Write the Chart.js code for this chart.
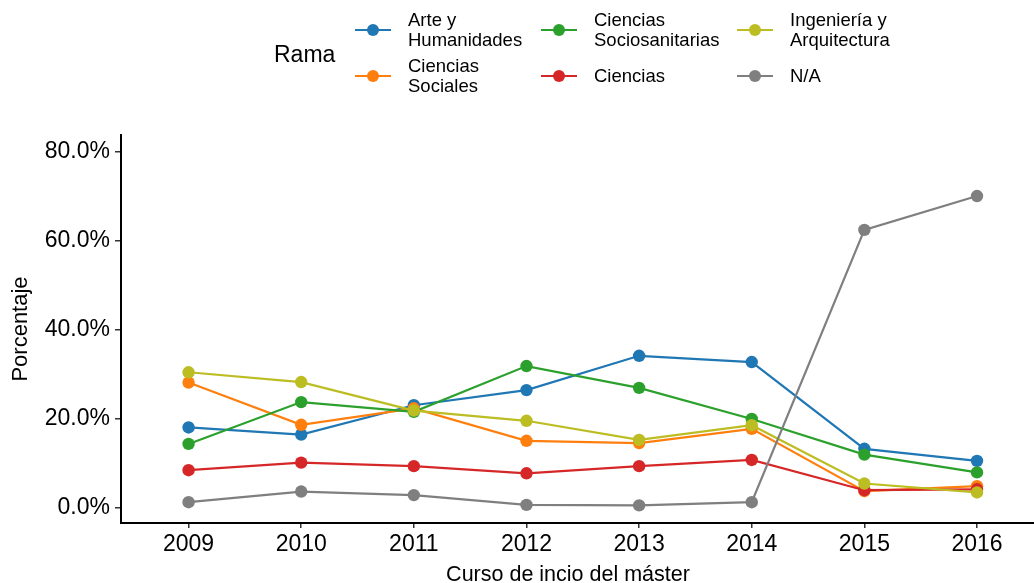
<!DOCTYPE html>
<html>
<head>
<meta charset="utf-8">
<script src="https://cdn.jsdelivr.net/npm/chart.js@4/dist/chart.umd.min.js"></script>
<style>
  html, body { margin: 0; padding: 0; background: #fff; }
  #wrap { width: 1034px; height: 583px; }
</style>
</head>
<body>
<div id="wrap"><canvas id="chart"></canvas></div>
<script>
  // ===== Datos =====
  const years = [2009, 2010, 2011, 2012, 2013, 2014, 2015, 2016];
  const yTicks = [0, 20, 40, 60, 80];

  const ramas = [
    'Arte y\nHumanidades',
    'Ciencias\nSociales',
    'Ciencias\nSociosanitarias',
    'Ciencias',
    'Ingeniería y\nArquitectura',
    'N/A'
  ];
  const arte            = [18.1, 16.5, 23.1, 26.5, 34.2, 32.8, 13.3, 10.6];
  const sociales        = [28.2, 18.7, 22.4, 15.1, 14.6, 17.8,  3.8,  4.9];
  const sociosanitarias = [14.4, 23.8, 21.6, 31.9, 27.0, 20.0, 12.0,  8.0];
  const ciencias        = [ 8.5, 10.2,  9.4,  7.8,  9.4, 10.8,  4.0,  4.2];
  const ingenieria      = [30.5, 28.3, 21.9, 19.6, 15.3, 18.6,  5.5,  3.5];
  const na              = [ 1.3,  3.7,  2.9,  0.7,  0.6,  1.3, 62.5, 70.1];

  const series = [arte, sociales, sociosanitarias, ciencias, ingenieria, na];
  const colors = ['#1f77b4', '#ff7f0e', '#2ca02c', '#d62728', '#bcbd22', '#7f7f7f'];

  const FONT = '"Liberation Sans", Arial, Helvetica, sans-serif';

  // ===== Leyenda (3 columnas x 2 filas, titulo a la izquierda) + titulo eje x =====
  const legendPlugin = {
    id: 'ramaLegend',
    afterDraw(chart) {
      const ctx = chart.ctx;
      const colX = [373, 559, 755];
      const rowY = [30, 76];
      ctx.save();
      ctx.fillStyle = '#000';
      ctx.font = '23px ' + FONT;
      ctx.textBaseline = 'middle';
      ctx.textAlign = 'left';
      ctx.fillText('Rama', 274, 56);

      chart.data.datasets.forEach((ds, i) => {
        const cx = colX[Math.floor(i / 2)];
        const cy = rowY[i % 2];
        ctx.strokeStyle = ds.borderColor;
        ctx.lineWidth = 2.2;
        ctx.beginPath();
        ctx.moveTo(cx - 18, cy);
        ctx.lineTo(cx + 18, cy);
        ctx.stroke();
        ctx.fillStyle = ds.borderColor;
        ctx.beginPath();
        ctx.arc(cx, cy, 6, 0, Math.PI * 2);
        ctx.fill();

        const lines = ds.label.split('\n');
        ctx.fillStyle = '#000';
        ctx.font = '18.5px ' + FONT;
        const lh = 19.5;
        lines.forEach((t, k) => {
          ctx.fillText(t, cx + 35, cy + (k - (lines.length - 1) / 2) * lh + 1);
        });
      });

      // titulo del eje x, centrado como en el original
      ctx.fillStyle = '#000';
      ctx.font = '21.5px ' + FONT;
      ctx.textAlign = 'center';
      ctx.textBaseline = 'alphabetic';
      ctx.fillText('Curso de incio del máster', 568, 581);
      ctx.restore();
    }
  };

  const datasets = series.map((data, i) => ({
    label: ramas[i],
    data: data.map((v, k) => ({ x: years[k], y: v })),
    borderColor: colors[i],
    backgroundColor: colors[i],
    borderWidth: 2.2,
    pointRadius: 6.2,
    pointHoverRadius: 6.2,
    pointBorderWidth: 0,
    tension: 0,
    order: series.length - i
  }));

  new Chart(document.getElementById('chart'), {
    type: 'line',
    data: { datasets },
    plugins: [legendPlugin],
    options: {
      responsive: true,
      maintainAspectRatio: false,
      animation: false,
      layout: { autoPadding: false, padding: { top: 135, right: 0, left: 0, bottom: 0 } },
      plugins: { legend: { display: false }, tooltip: { enabled: false } },
      scales: {
        x: {
          type: 'linear',
          min: 2008.4,
          max: 2016.506,
          afterBuildTicks: s => { s.ticks = years.map(v => ({ value: v })); },
          afterFit: s => { s.height = 60; },
          ticks: {
            color: '#000',
            font: { family: FONT, size: 23 },
            padding: 3,
            maxRotation: 0,
            autoSkip: false,
            callback: v => String(v)
          },
          grid: { drawOnChartArea: false, drawTicks: true, tickLength: 5, color: '#333', lineWidth: 1.5 },
          border: { display: true, color: '#000', width: 2 },
          title: { display: false }
        },
        y: {
          min: -3.37,
          max: 83.82,
          afterBuildTicks: s => { s.ticks = yTicks.map(v => ({ value: v })); },
          afterFit: s => { s.width = 121; },
          ticks: {
            color: '#000',
            font: { family: FONT, size: 23 },
            padding: 5,
            callback: v => v.toFixed(1) + '%'
          },
          grid: { drawOnChartArea: false, drawTicks: true, tickLength: 6, color: '#333', lineWidth: 1.5 },
          border: { display: true, color: '#000', width: 2 },
          title: {
            display: true,
            text: 'Porcentaje',
            color: '#000',
            font: { family: FONT, size: 22 },
            padding: { top: 8, bottom: 0 }
          }
        }
      }
    }
  });
</script>
</body>
</html>
